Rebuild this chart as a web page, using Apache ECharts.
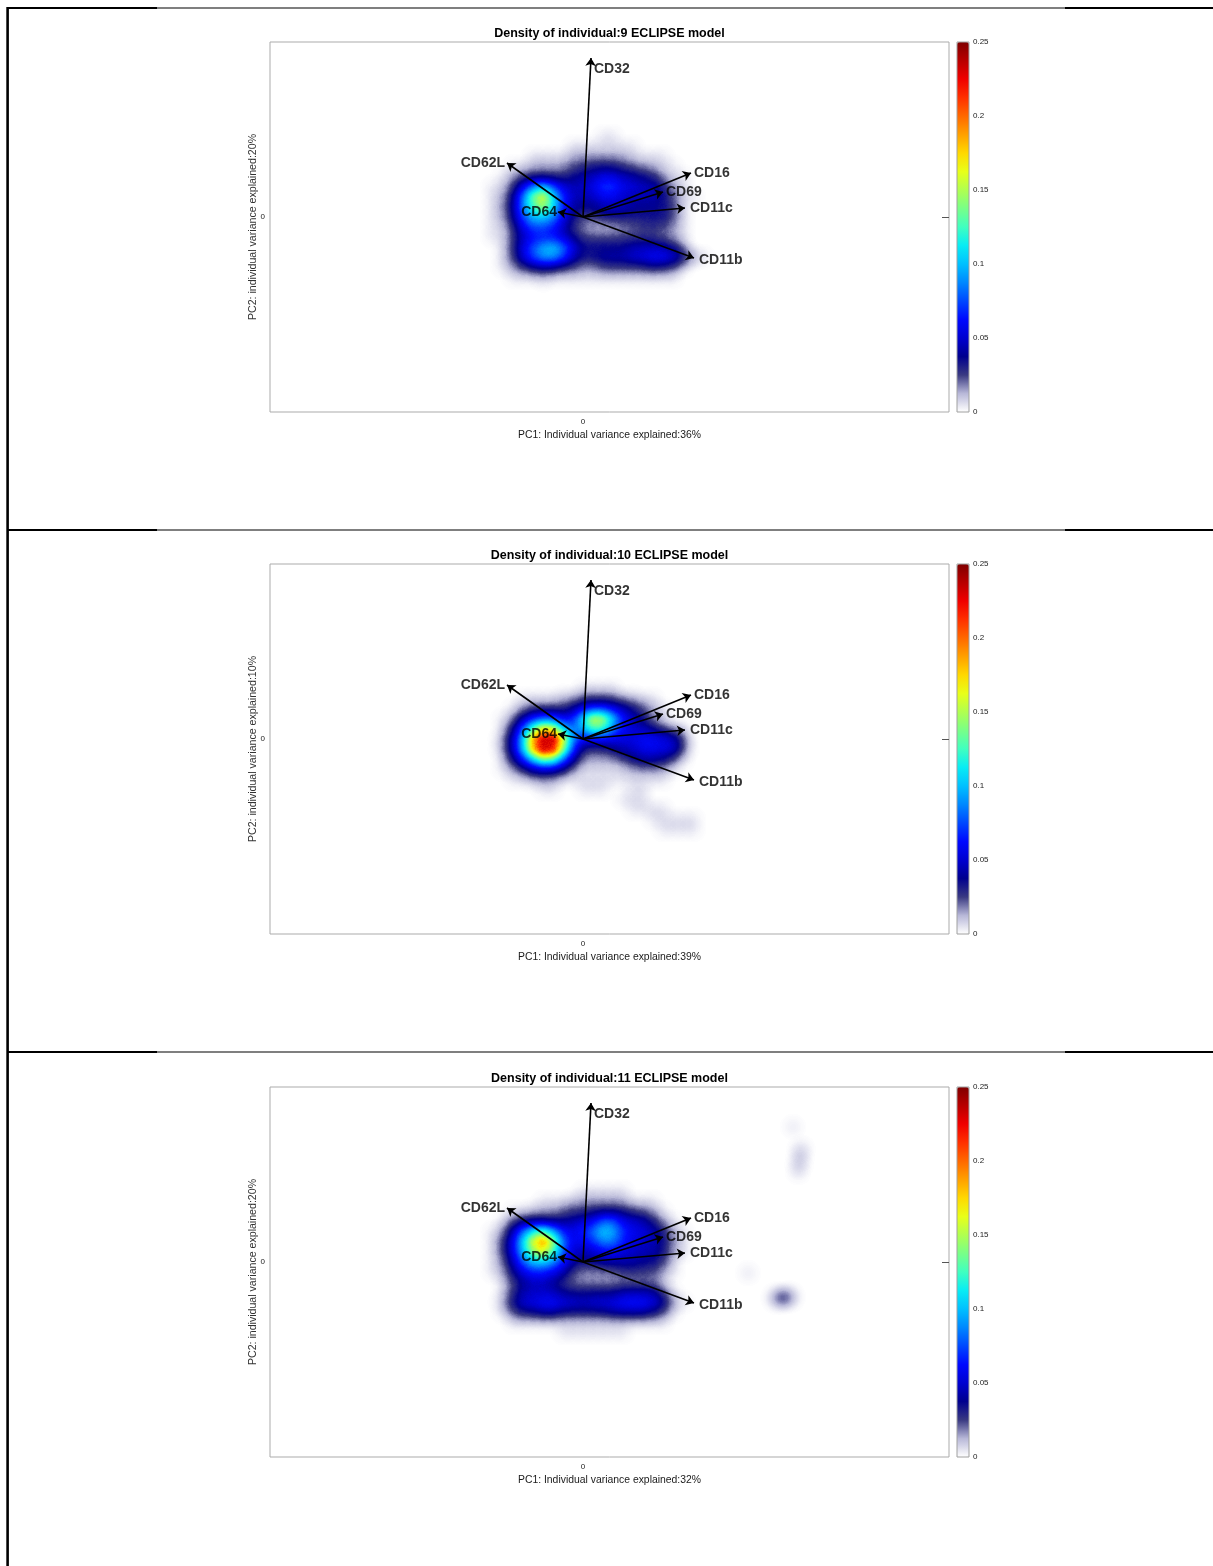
<!DOCTYPE html>
<html>
<head>
<meta charset="utf-8">
<title>Density of individual ECLIPSE model</title>
<script src="https://cdn.jsdelivr.net/npm/echarts@6.0.0/dist/echarts.min.js"></script>
<style>
  html, body { margin: 0; padding: 0; background: #fff; }
  #chart { width: 1213px; height: 1566px; }
</style>
</head>
<body>
<div id="chart"></div>
<script>
// --- data -------------------------------------------------------------
const individuals = ['9', '10', '11'];
const pc1Explained = ['36%', '39%', '32%'];
const pc2Explained = ['20%', '10%', '20%'];

// biplot loadings (arrow tips), same markers for every individual
const markers = ['CD32', 'CD62L', 'CD16', 'CD69', 'CD11c', 'CD11b', 'CD64'];
const loadX = [0.08, -0.76, 1.08, 0.80, 1.02, 1.11, -0.25];
const loadY = [1.59, 0.54, 0.44, 0.25, 0.09, -0.41, 0.05];

// density on a 0.1 x 0.1 lattice, columns x = -1.0 .. 1.3,
// rows going down from densTop. One char per cell, base 36 in hundredths:
// '5' = 0.05, 'a' = 0.10, 'f' = 0.15, 'm' = 0.22
const densX0 = -1.0;
const densStep = 0.1;
const densTop = [0.8, 0.5, 0.7];
const density9 = [
  '000000000000110000000000',
  '000000000111111100000000',
  '000001111222222111100000',
  '000112222334443322110000',
  '001233333455665544211000',
  '011369b86556886655421000',
  '01249ehb7555665555431100',
  '01249cfb7444555444431000',
  '01248aa96433444444431000',
  '011368875321112233321000',
  '011356665433333333221000',
  '001368ab9644444555542000',
  '001368aa8544555667765210',
  '001234443322333334331000',
  '000111211111111111110000'
];
const density10 = [
  '000000000011110000000000',
  '000011112233332211000000',
  '000123333467765432100000',
  '0012578867chgb7542100000',
  '00148dhga89dc86554321000',
  '0025ailmg966666677663000',
  '0025aimle733345566663000',
  '00147aed8522223455431000',
  '001235554211111222210000',
  '000112221111111111100000',
  '000000110011100110000000',
  '000000000000001110000000',
  '000000000000000111100000',
  '000000000000000001111100',
  '000000000000000000111100'
];
const density11 = [
  '000000000011111000000000',
  '000000111222222111000000',
  '000112223334444332100000',
  '001344444566996654210000',
  '01259cea7679ba7665421000',
  '0136bgjf8667997655421000',
  '0136aegc8555665555421000',
  '01258aa97444555544310000',
  '012467765322223333210000',
  '001345543222222222100000',
  '001355554444445555310000',
  '002466776656667776521000',
  '001344554444455554310000',
  '000111111111111111100000',
  '000000001111111000000000'
];
// isolated specks outside the lattice: [x, y, density]
const specks9 = [];
const specks10 = [];
const specks11 = [
  [1.94, -0.36, 0.03], [2.00, -0.36, 0.03], [2.06, -0.35, 0.03],
  [2.18, 1.13, 0.015], [2.17, 1.05, 0.015], [2.16, 0.97, 0.015], [2.15, 0.90, 0.01],
  [2.10, 1.35, 0.01], [1.65, -0.11, 0.01]
];

const densityRange = [0, 0.25];
const colorbarStep = 0.05;

// --- layout / style ---------------------------------------------------
const panelOffset = [0, 522, 1045];
const plotBox = { left: 270, top: 42, width: 679, height: 370 };
const barBox = { left: 957, width: 12 };
const xRange = [-3.13, 3.66];
const yRange = [-1.95, 1.75];
const fontFam = '"Liberation Sans", Arial, sans-serif';

// white -> navy -> jet
const densityColors = [
  '#ffffff', '#b8b8d8', '#3a3a82', '#00008e', '#0000d0', '#0008ff', '#0048ff',
  '#0088ff', '#00c0ff', '#08ecf4', '#40ffc0', '#78ff88', '#b0ff50', '#e8ff18',
  '#ffd800', '#ffa000', '#ff6800', '#ff3000', '#f00000', '#b80000', '#800000'
];

// the smooth heat layer piles up alpha roughly like 1 - exp(-gain * density),
// so its colour stops follow that curve to read against the linear colorbar
const heatGain = 12;
const heatColors = [];
for (let j = 0; j <= 64; j++) {
  const f = j / 64;
  const v = Math.min(densityRange[1], -Math.log(Math.max(1e-6, 1 - f)) / heatGain);
  heatColors.push(echarts.color.lerp(v / densityRange[1], densityColors));
}

const labelPlace = {
  CD32: { position: 'right', distance: 3, offset: [0, 11] },
  CD62L: { position: 'left', distance: 2 },
  CD16: { position: 'right', distance: 3 },
  CD69: { position: 'right', distance: 3 },
  CD11c: { position: 'right', distance: 5 },
  CD11b: { position: 'right', distance: 5, offset: [0, 2] },
  CD64: { position: 'left', distance: 1 }
};

function densityPoints(rows, top, specks) {
  const pts = [];
  rows.forEach(function (row, r) {
    for (let c = 0; c < row.length; c++) {
      const v = parseInt(row[c], 36) / 100;
      if (v > 0) pts.push([densX0 + c * densStep, top - r * densStep, v]);
    }
  });
  return pts.concat(specks);
}

// plain rectangle "map" covering the PC plane, only used so that the
// heatmap can be drawn as a smooth density layer on a geo coordinate system
echarts.registerMap('pcPlane', {
  type: 'FeatureCollection',
  features: [{
    type: 'Feature',
    properties: { name: 'plane' },
    geometry: {
      type: 'Polygon',
      coordinates: [[[xRange[0], yRange[0]], [xRange[1], yRange[0]], [xRange[1], yRange[1]],
        [xRange[0], yRange[1]], [xRange[0], yRange[0]]]]
    }
  }]
});

const chart = echarts.init(document.getElementById('chart'));

const densities = [density9, density10, density11];
const speckSets = [specks9, specks10, specks11];

const grids = [], xAxes = [], yAxes = [], geos = [], visualMaps = [], series = [], graphics = [];

// table rules of the document the figures sit in
[8, 530, 1052].forEach(function (y) {
  graphics.push({ type: 'line', shape: { x1: 8, y1: y, x2: 157, y2: y }, style: { stroke: '#000', lineWidth: 2.2 } });
  graphics.push({ type: 'line', shape: { x1: 157, y1: y, x2: 1065, y2: y }, style: { stroke: '#000', lineWidth: 1.2 } });
  graphics.push({ type: 'line', shape: { x1: 1065, y1: y, x2: 1213, y2: y }, style: { stroke: '#000', lineWidth: 2.2 } });
});
graphics.push({ type: 'line', shape: { x1: 7.6, y1: 7, x2: 7.6, y2: 1566 }, style: { stroke: '#000', lineWidth: 2.6 } });

for (let i = 0; i < 3; i++) {
  const oy = panelOffset[i];
  const top = plotBox.top + oy;

  // main plot
  grids.push({
    left: plotBox.left, top: top, width: plotBox.width, height: plotBox.height,
    show: true, borderColor: '#ababab', borderWidth: 1, backgroundColor: 'transparent',
    outerBoundsMode: 'none', containLabel: false
  });
  // colorbar
  grids.push({
    left: barBox.left, top: top, width: barBox.width, height: plotBox.height,
    show: true, borderColor: '#a0a0a0', borderWidth: 1, backgroundColor: 'transparent',
    outerBoundsMode: 'none', containLabel: false, z: 10
  });
  const gMain = 2 * i, gBar = 2 * i + 1;

  xAxes.push({
    gridIndex: gMain, type: 'value', min: xRange[0], max: xRange[1],
    axisLine: { show: false },
    axisTick: { show: true, inside: true, length: 5, customValues: [0], lineStyle: { color: '#555' } },
    axisLabel: { customValues: [0], fontSize: 8, color: '#222', margin: 6, fontFamily: fontFam },
    splitLine: { show: false },
    name: 'PC1: Individual variance explained:' + pc1Explained[i],
    nameLocation: 'middle', nameGap: 18, nameMoveOverlap: false,
    nameTextStyle: { fontSize: 10.4, color: '#1a1a1a', fontFamily: fontFam }
  });
  xAxes.push({ gridIndex: gBar, type: 'value', min: 0, max: 1, show: false });

  yAxes.push({
    gridIndex: gMain, type: 'value', min: yRange[0], max: yRange[1],
    axisLine: { show: false },
    axisTick: { show: true, inside: true, length: 6, customValues: [0], lineStyle: { color: '#555' } },
    axisLabel: { customValues: [0], fontSize: 8, color: '#222', margin: 5, fontFamily: fontFam },
    splitLine: { show: false },
    name: 'PC2: individual variance explained:' + pc2Explained[i],
    nameLocation: 'middle', nameGap: 11, nameRotate: 90, nameMoveOverlap: false,
    nameTextStyle: { fontSize: 10.6, color: '#333', fontFamily: fontFam }
  });
  yAxes.push({
    gridIndex: gMain, type: 'value', min: yRange[0], max: yRange[1], position: 'right',
    axisLine: { show: false },
    axisTick: { show: true, inside: true, length: 7, customValues: [0], lineStyle: { color: '#555' } },
    axisLabel: { show: false }, splitLine: { show: false }
  });
  yAxes.push({
    gridIndex: gBar, type: 'value', min: densityRange[0], max: densityRange[1], interval: colorbarStep,
    position: 'right',
    axisLine: { show: false },
    axisTick: { show: false },
    axisLabel: { fontSize: 8, color: '#222', margin: 4, fontFamily: fontFam },
    splitLine: { show: false }
  });
  const xMain = 2 * i, yMain = 3 * i;

  geos.push({
    map: 'pcPlane', left: plotBox.left, top: top, width: plotBox.width, height: plotBox.height,
    roam: false, silent: true, z: 1,
    itemStyle: { areaColor: 'rgba(0,0,0,0)', borderColor: 'rgba(0,0,0,0)', borderWidth: 0 },
    emphasis: { disabled: true }, select: { disabled: true },
    label: { show: false }, tooltip: { show: false }
  });

  const heatIndex = series.length;
  series.push({
    type: 'heatmap', coordinateSystem: 'geo', geoIndex: i,
    pointSize: 9.8, blurSize: 12, minOpacity: 1, maxOpacity: 1,
    silent: true, z: 2,
    data: densityPoints(densities[i], densTop[i], speckSets[i])
  });

  // colour mapping of the heat layer (hidden)
  visualMaps.push({
    type: 'continuous', show: false, seriesIndex: heatIndex, dimension: 2,
    min: densityRange[0], max: densityRange[1],
    inRange: { color: heatColors }
  });
  // the visible colorbar
  visualMaps.push({
    type: 'continuous', seriesIndex: [], dimension: 2,
    min: densityRange[0], max: densityRange[1],
    orient: 'vertical', left: barBox.left, top: top, padding: 0,
    itemWidth: barBox.width, itemHeight: plotBox.height,
    calculable: false, hoverLink: false, text: null, showLabel: false,
    inRange: { color: densityColors }, z: 4
  });

  series.push({
    type: 'lines', coordinateSystem: 'cartesian2d', xAxisIndex: xMain, yAxisIndex: yMain,
    symbol: ['none', 'arrow'], symbolSize: 8, silent: true, z: 10,
    lineStyle: { color: '#000', width: 1.6, opacity: 1, curveness: 0 },
    data: markers.map(function (m, k) {
      return { name: m, coords: [[0, 0], [loadX[k], loadY[k]]] };
    })
  });

  series.push({
    type: 'scatter', xAxisIndex: xMain, yAxisIndex: yMain,
    symbolSize: 0, silent: true, z: 11,
    label: { show: true, formatter: '{b}', fontSize: 14, fontWeight: 'bold', color: '#000', fontFamily: fontFam },
    data: markers.map(function (m, k) {
      return { name: m, value: [loadX[k], loadY[k]], label: labelPlace[m] };
    })
  });

  graphics.push({
    type: 'text', x: 609.5, y: 33.5 + oy, silent: true,
    style: {
      text: 'Density of individual:' + individuals[i] + ' ECLIPSE model',
      font: 'bold 12.5px ' + fontFam, fill: '#000', align: 'center', verticalAlign: 'middle'
    }
  });
}

chart.setOption({
  backgroundColor: '#fff',
  animation: false,
  textStyle: { fontFamily: fontFam },
  grid: grids,
  xAxis: xAxes,
  yAxis: yAxes,
  geo: geos,
  visualMap: visualMaps,
  series: series,
  graphic: graphics
});
</script>
</body>
</html>
